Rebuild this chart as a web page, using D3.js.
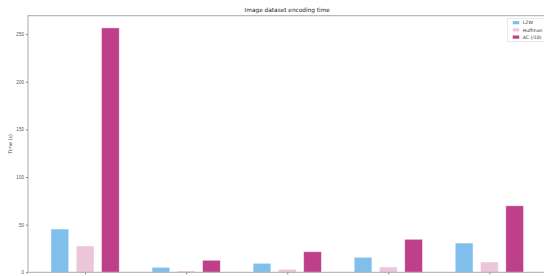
<!DOCTYPE html>
<html><head><meta charset="utf-8">
<script src="https://cdn.jsdelivr.net/npm/d3@7"></script>
<style>body{margin:0;background:#fff;overflow:hidden}svg{display:block;font-family:"DejaVu Sans",sans-serif}</style>
</head><body><svg id="c" width="544" height="276"></svg>
<script>
const categories = ["Image 1", "Image 2", "Image 3", "Image 4", "Image 5"];
const seriesNames = ["LZW", "Huffman", "AC (/10)"];
const lzw = [45.4, 5.2, 9.4, 15.7, 30.7];
const huffman = [27.6, 1.4, 3.1, 5.5, 10.8];
const ac = [256.5, 12.6, 21.6, 34.6, 69.8];
const yTicks = [0, 50, 100, 150, 200, 250];
const colors = ["#80bfeb", "#ebc5d9", "#be3f8a"];

const series = [lzw, huffman, ac];
const svg = d3.select("#c");
const L = 28, R = 546.5, T = 15.7, B = 272.3;
const x = d3.scaleLinear().domain([-0.565, categories.length - 1 + 0.565]).range([L, R]);
const ymax = d3.max(ac) * 1.05;
const y = d3.scaleLinear().domain([0, ymax]).range([B, T]);
const off = 0.25, bw = 0.175;

series.forEach((s, si) => {
  svg.append("g").selectAll("rect").data(s).join("rect")
    .attr("x", (d, i) => x(i + (si - 1) * off - bw / 2))
    .attr("width", x(bw) - x(0))
    .attr("y", d => y(d))
    .attr("height", d => y(0) - y(d))
    .attr("fill", colors[si])
    .attr("stroke", "#fff").attr("stroke-opacity", 0.5).attr("stroke-width", 0.8);
});

// y axis
const ya = svg.append("g").attr("transform", `translate(${L},0)`)
  .call(d3.axisLeft(y).tickValues(yTicks).tickSize(2).tickPadding(2));
ya.select(".domain").remove();
ya.selectAll("line").attr("stroke", "#777");
ya.selectAll("text").attr("font-size", 4.6).attr("fill", "#555");

// x axis (tick labels fall below the visible area in the reference)
const xa = svg.append("g").attr("transform", `translate(0,${B})`)
  .call(d3.axisBottom(x).tickValues(d3.range(categories.length)).tickFormat("").tickSize(2));
xa.select(".domain").remove();
xa.selectAll("line").attr("stroke", "#777");

// spines
svg.append("rect").attr("x", L).attr("y", T).attr("width", R - L).attr("height", B - T)
  .attr("fill", "none").attr("stroke", "#aaa").attr("stroke-width", 1);

// title
svg.append("text").attr("x", (L + R) / 2).attr("y", 12).attr("text-anchor", "middle")
  .attr("font-size", 5.8).attr("fill", "#222").text("Image dataset encoding time");

// y label
svg.append("text").attr("transform", `translate(12,${(T + B) / 2}) rotate(-90)`)
  .attr("text-anchor", "middle").attr("font-size", 4.8).attr("fill", "#444").text("Time (s)");

// legend
const lg = svg.append("g");
lg.append("rect").attr("x", 507.3).attr("y", 18.7).attr("width", 45).attr("height", 23)
  .attr("fill", "#fff").attr("stroke", "#ddd").attr("stroke-width", 0.6);
seriesNames.forEach((n, i) => {
  const cy = 22.7 + i * 7.2;
  lg.append("rect").attr("x", 512.7).attr("y", cy - 1.6).attr("width", 6.5).attr("height", 3.2).attr("fill", colors[i]);
  lg.append("text").attr("x", 522.7).attr("y", cy + 1.7).attr("font-size", 4.6).attr("fill", "#333").text(n);
});
</script></body></html>
